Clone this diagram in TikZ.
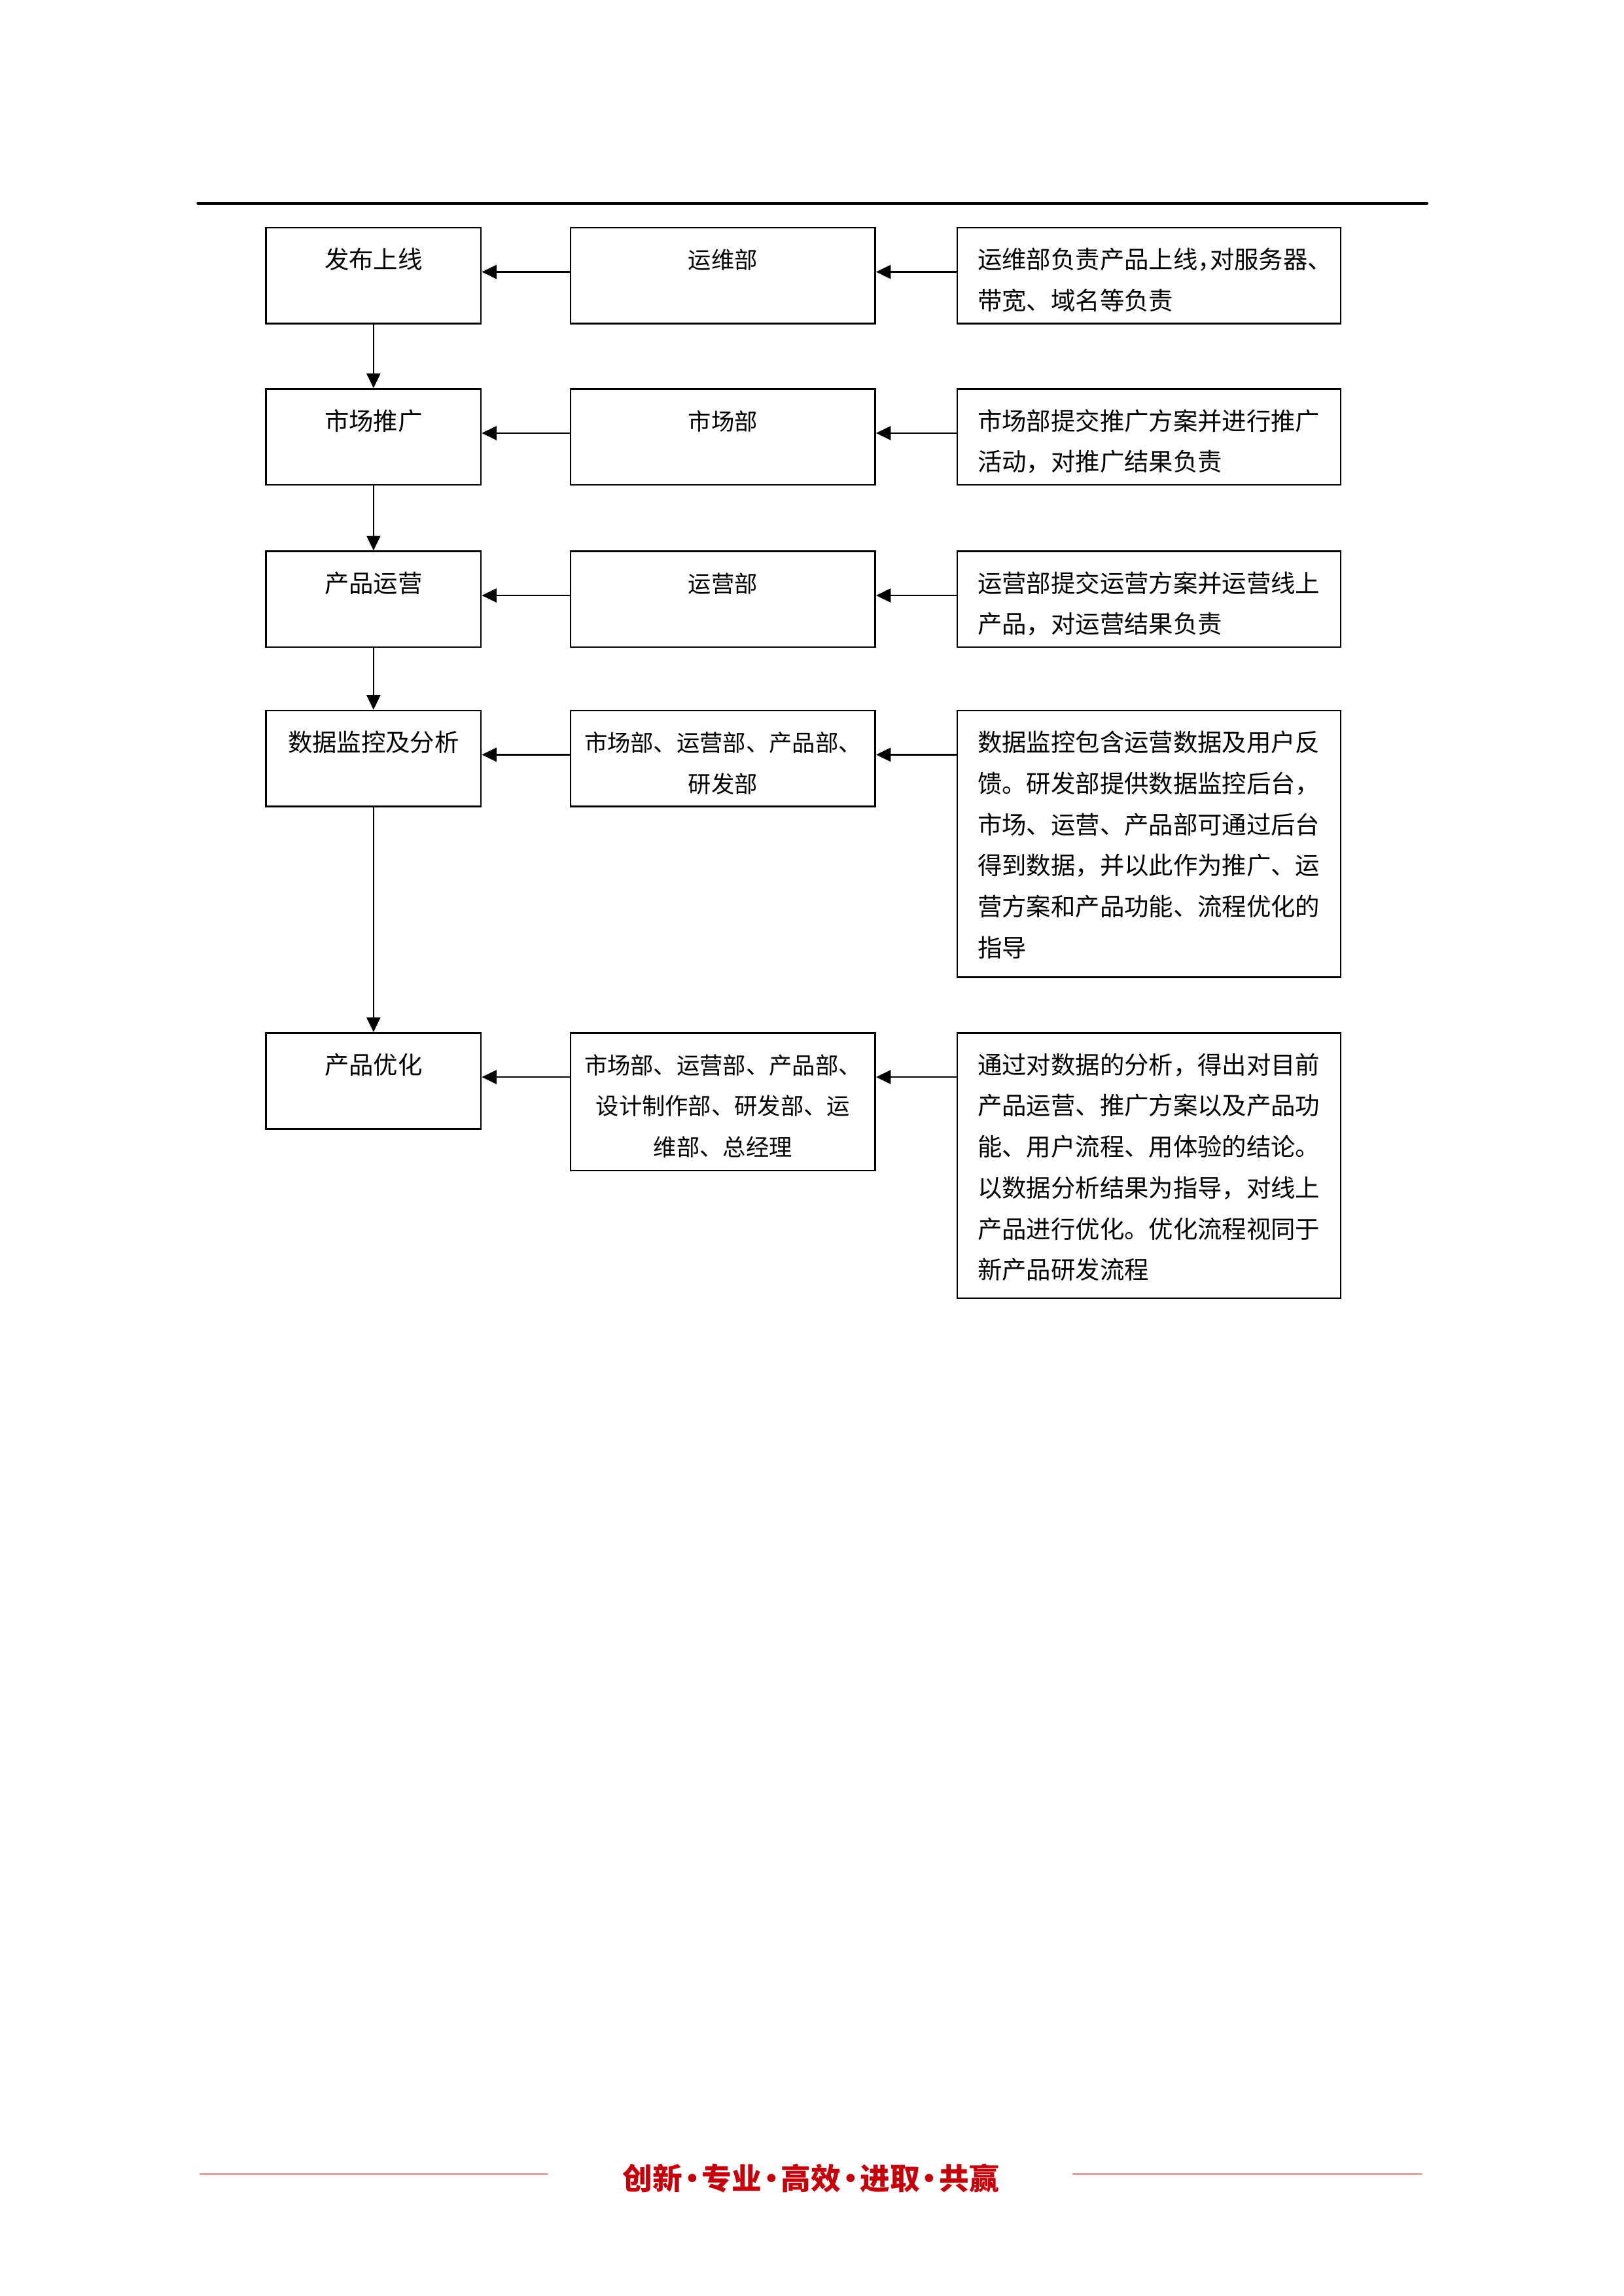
\documentclass[tikz,border=0pt]{standalone}
\usepackage{fontspec}
\setmainfont{Noto Sans CJK SC}
\usepackage{tikz}
\usetikzlibrary{arrows.meta}
\usepackage{xcolor}
\definecolor{footred}{RGB}{196,0,10}
\definecolor{footline}{RGB}{224,160,160}
\newcommand\halfp[1]{{\addfontfeature{RawFeature=+halt}#1}}
\newcommand\mottodot{\makebox[2.5mm]{•}}

\begin{document}
\begin{tikzpicture}[x=1mm,y=-1mm,>={Triangle[length=1.9mm,width=1.8mm]},
  font=\fontsize{9pt}{15.1pt}\selectfont,line cap=round,
  box/.style={draw,line width=0.65pt,anchor=north west,inner ysep=0pt,text height=5.3mm,text depth=7.1mm},
  actbox/.style={box,inner xsep=0pt,text width=27.8mm,align=center},
  deptbox/.style={box,inner xsep=0pt,text width=39.4mm,align=center,font=\fontsize{8.5pt}{15.1pt}\selectfont},
  notebox/.style={box,inner xsep=2.65mm,text width=44.3mm,align=left},
  flow/.style={->,line width=0.55pt}]
\useasboundingbox (0,0) rectangle (210,297);
\draw[line width=1pt] (25.6,26.3) -- (184.6,26.3);
\node[actbox] (act1) at (34.3,29.35) {发布上线};
\node[deptbox] (dept1) at (73.7,29.35) {运维部};
\node[notebox] (note1) at (123.7,29.35) {运维部负责产品上线\halfp{，}对服务器\halfp{、}\\带宽、域名等负责};
\node[actbox] (act2) at (34.3,50.2) {市场推广};
\node[deptbox] (dept2) at (73.7,50.2) {市场部};
\node[notebox] (note2) at (123.7,50.2) {市场部提交推广方案并进行推广\\活动，对推广结果负责};
\node[actbox] (act3) at (34.3,71.2) {产品运营};
\node[deptbox] (dept3) at (73.7,71.2) {运营部};
\node[notebox] (note3) at (123.7,71.2) {运营部提交运营方案并运营线上\\产品，对运营结果负责};
\node[actbox] (act4) at (34.3,91.8) {数据监控及分析};
\node[deptbox] (dept4) at (73.7,91.8) {市场部、运营部、产品部、\\研发部};
\node[notebox,text depth=29.2mm] (note4) at (123.7,91.8) {数据监控包含运营数据及用户反\\馈。研发部提供数据监控后台，\\市场、运营、产品部可通过后台\\得到数据，并以此作为推广、运\\营方案和产品功能、流程优化的\\指导};
\node[actbox] (act5) at (34.3,133.5) {产品优化};
\node[deptbox,text depth=12.5mm] (dept5) at (73.7,133.5) {市场部、运营部、产品部、\\设计制作部、研发部、运\\维部、总经理};
\node[notebox,text depth=29mm] (note5) at (123.7,133.5) {通过对数据的分析，得出对目前\\产品运营、推广方案以及产品功\\能、用户流程、用体验的结论。\\以数据分析结果为指导，对线上\\产品进行优化。优化流程视同于\\新产品研发流程};
\foreach \i in {1,...,5}{
  \coordinate (lvl\i) at ([yshift=1.4pt]act\i.east);
  \draw[flow] (dept\i.west |- lvl\i) -- (lvl\i);
  \draw[flow] (note\i.west |- lvl\i) -- (dept\i.east |- lvl\i);
}
\foreach \i/\j in {1/2,2/3,3/4,4/5}
  \draw[->,line width=0.45pt] (act\i) -- (act\j);
\node[font=\fontsize{11pt}{12pt}\selectfont\bfseries,text=footred] (motto) at (104.9,281.8) {创新\mottodot 专业\mottodot 高效\mottodot 进取\mottodot 共赢};
\draw[footline,line width=0.6pt] (25.9,281.2) -- (70.8,281.2);
\draw[footline,line width=0.6pt] (138.8,281.2) -- (183.9,281.2);
\end{tikzpicture}
\end{document}
